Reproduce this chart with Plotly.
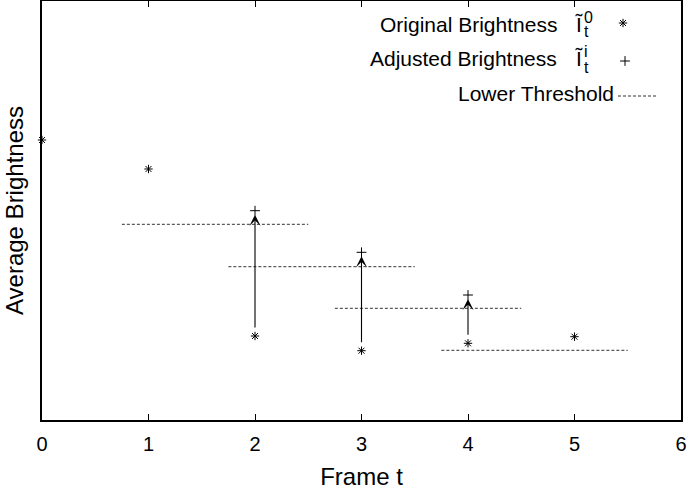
import plotly.graph_objects as go

# ---- data ----
frames = [0, 1, 2, 3, 4, 5]
original = [280.0, 251.0, 84.0, 69.3, 76.7, 83.3]
adj_frames = [2, 3, 4]
adjusted = [209.3, 167.7, 125.0]
thr_frames = [2, 3, 4, 5]
threshold = [195.7, 153.3, 111.7, 69.7]
thr_start = [0.75, 1.75, 2.75, 3.75]
thr_end = [2.5, 3.5, 4.5, 5.5]
x_ticks = [0, 1, 2, 3, 4, 5, 6]

FONT = "Liberation Sans, Arial, sans-serif"
FS = 20
FL = 21

# plot-area geometry (pixels)
L, R, T, B = 42, 681, 1, 420
W, H = 690, 490


def px(x):
    return (x - L) / (R - L)


def py(y):
    return (B - y) / (B - T)


fig = go.Figure()

# threshold dashed segments
for s, e, v in zip(thr_start, thr_end, threshold):
    fig.add_trace(go.Scatter(x=[s, e], y=[v, v], mode="lines",
                             line=dict(color="#333333", width=1, dash="3px,2px"),
                             showlegend=False, hoverinfo="skip"))

star = dict(symbol="asterisk-open", size=7, color="black",
            line=dict(color="black", width=1))
plus = dict(symbol="cross-thin-open", size=7, color="black",
            line=dict(color="black", width=1))

# original brightness
fig.add_trace(go.Scatter(x=frames, y=original, mode="markers", marker=star,
                         showlegend=False, cliponaxis=False))
# adjusted brightness
fig.add_trace(go.Scatter(x=adj_frames, y=adjusted, mode="markers", marker=plus,
                         showlegend=False))

annotations = []
# arrows from original to adjusted
orig_map = dict(zip(frames, original))
for f, a in zip(adj_frames, adjusted):
    o = orig_map[f]
    annotations.append(dict(x=f, y=a - 4, ax=f, ay=o + 7, xref="x", yref="y",
                            axref="x", ayref="y", text="", showarrow=True,
                            arrowhead=3, arrowsize=1.7, arrowwidth=1.1,
                            arrowcolor="black"))

# legend (text right, sample right of text)
rows = [("Original Brightness", "0", 24), ("Adjusted Brightness", "i", 59)]
for txt, sup, yc in rows:
    annotations.append(dict(x=px(559), y=py(yc), xref="paper", yref="paper",
                            text=txt, showarrow=False, xanchor="right",
                            yanchor="middle", font=dict(size=FL, family=FONT, color="black")))
    annotations.append(dict(x=px(573), y=py(yc), xref="paper", yref="paper",
                            text="Ĩ", showarrow=False, xanchor="left",
                            yanchor="middle", font=dict(size=FL, family=FONT, color="black")))
    annotations.append(dict(x=px(582), y=py(yc - 7), xref="paper", yref="paper",
                            text=sup, showarrow=False, xanchor="left",
                            yanchor="middle", font=dict(size=16, family=FONT, color="black")))
    annotations.append(dict(x=px(582), y=py(yc + 8), xref="paper", yref="paper",
                            text="t", showarrow=False, xanchor="left",
                            yanchor="middle", font=dict(size=16, family=FONT, color="black")))
annotations.append(dict(x=px(616), y=py(93), xref="paper", yref="paper",
                        text="Lower Threshold", showarrow=False, xanchor="right",
                        yanchor="middle", font=dict(size=FL, family=FONT, color="black")))

# legend samples on an overlay pixel axis
fig.add_trace(go.Scatter(x=[623], y=[23], xaxis="x2", yaxis="y2", mode="markers",
                         marker=star, showlegend=False, hoverinfo="skip", cliponaxis=False))
fig.add_trace(go.Scatter(x=[625], y=[61], xaxis="x2", yaxis="y2", mode="markers",
                         marker=plus, showlegend=False, hoverinfo="skip", cliponaxis=False))
fig.add_trace(go.Scatter(x=[618, 658], y=[96, 96], xaxis="x2", yaxis="y2", mode="lines",
                         line=dict(color="#333333", width=1, dash="3px,2px"),
                         showlegend=False, hoverinfo="skip"))

fig.update_layout(
    width=W, height=H,
    margin=dict(l=L, r=W - R, t=T, b=H - B, autoexpand=False),
    paper_bgcolor="white", plot_bgcolor="white",
    font=dict(family=FONT, size=FS, color="black"),
    showlegend=False,
    annotations=annotations,
    xaxis=dict(range=[0, 6], tickvals=x_ticks, ticks="inside", ticklen=6,
               tickwidth=1, tickcolor="black", showline=True, linecolor="black",
               linewidth=1.5, mirror="ticks", showgrid=False, zeroline=False,
               automargin=False,
               title=dict(text="Frame t", standoff=14),
               tickfont=dict(size=FS, family=FONT), ticklabelstandoff=5),
    yaxis=dict(range=[0, 419], showticklabels=False, ticks="", showline=True,
               linecolor="black", linewidth=1.5, mirror=True, showgrid=False,
               zeroline=False, automargin=False,
               title=dict(text="Average Brightness", standoff=10)),
    xaxis2=dict(range=[L, R], overlaying="x", visible=False),
    yaxis2=dict(range=[B, T], overlaying="y", visible=False),
)

fig.write_html("out.html", config={"displayModeBar": False},
               post_script="document.body.style.margin='0';")
